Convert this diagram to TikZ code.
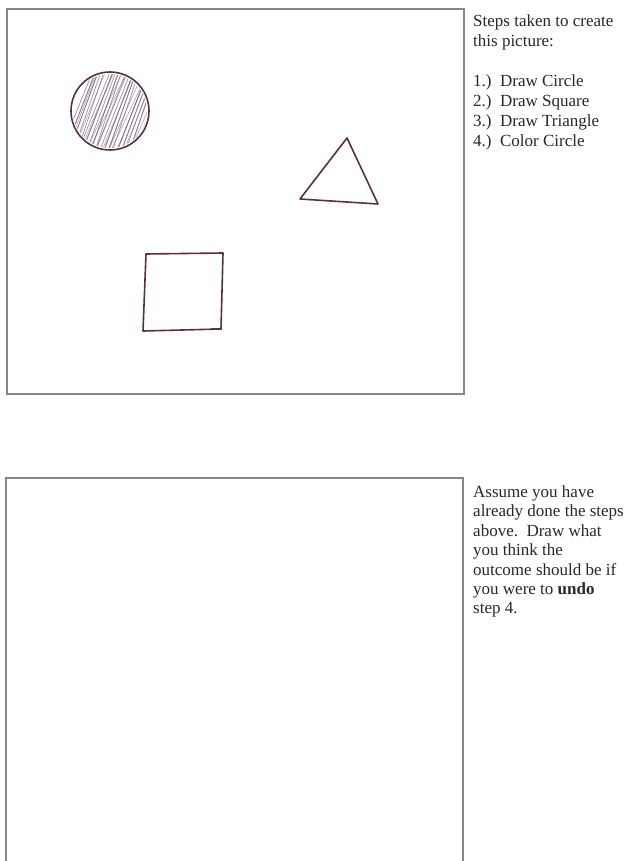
\documentclass[tikz,border=0pt]{standalone}
\usepackage{fontspec}
\setmainfont{Liberation Serif}
\definecolor{pen}{RGB}{85,50,68}
\definecolor{hatch}{RGB}{130,115,140}
\definecolor{frame}{RGB}{135,135,135}
\definecolor{txt}{RGB}{40,40,40}
\begin{document}
\begin{tikzpicture}[x=1pt,y=-1pt,
  framebox/.style={draw=frame,line width=1.1pt},
  penline/.style={draw=pen,line width=1.6pt,line join=round,line cap=round},
  stepstext/.style={anchor=base west,inner sep=0pt,text=txt,font=\fontsize{17}{20}\selectfont}]
\useasboundingbox (0,0) rectangle (631,861);
\fill[white] (0,0) rectangle (631,861);
% frames
\draw[framebox] (7,9) rectangle (464,394);
\draw[framebox] (6,880) -- (6,478) -- (463,478) -- (463,880);
% circle with hatching
\begin{scope}
\clip (110,111) circle (37);
\foreach \i in {0,...,40}{
  \pgfmathsetmacro{\xa}{55+\i*2.6+mod(\i*37,5)*0.7}
  \pgfmathsetmacro{\xb}{\xa+30+mod(\i*13,7)}
  \draw[hatch,line width=0.7pt,opacity=0.8] (\xa,155) -- (\xb,66);
}
\foreach \i in {0,...,16}{
  \pgfmathsetmacro{\xa}{68+\i*5.5+mod(\i*29,4)}
  \pgfmathsetmacro{\xb}{\xa+28+mod(\i*11,9)}
  \draw[pen!75,line width=0.6pt,opacity=0.6] (\xa,148) -- (\xb,74);
}
\end{scope}
\draw[penline] (110,111) circle (39);
% triangle
\draw[penline] (347,138) -- (378,204) -- (300,199) -- cycle;
% square
\draw[penline] (146,254) -- (223,253) -- (221,329) -- (143,331) -- cycle;
\draw[pen,line width=2.6pt,line cap=round] (212,329) -- (221,329);
% texts
\node[stepstext] (s1) at (473,27) {Steps taken to create};
\node[stepstext] (s2) at (473,47) {this picture:};
\node[stepstext] (s3) at (473,87) {1.)\ \ Draw Circle};
\node[stepstext] (s4) at (473,107) {2.)\ \ Draw Square};
\node[stepstext] (s5) at (473,127) {3.)\ \ Draw Triangle};
\node[stepstext] (s6) at (473,147) {4.)\ \ Color Circle};
\node[stepstext] (b1) at (473,497) {Assume you have};
\node[stepstext] (b2) at (473,516) {already done the steps};
\node[stepstext] (b3) at (473,536) {above.\ \ Draw what};
\node[stepstext] (b4) at (473,555) {you think the};
\node[stepstext] (b5) at (473,575) {outcome should be if};
\node[stepstext] (b6) at (473,594) {you were to \textbf{undo}};
\node[stepstext] (b7) at (473,613) {step 4.};
\end{tikzpicture}
\end{document}
